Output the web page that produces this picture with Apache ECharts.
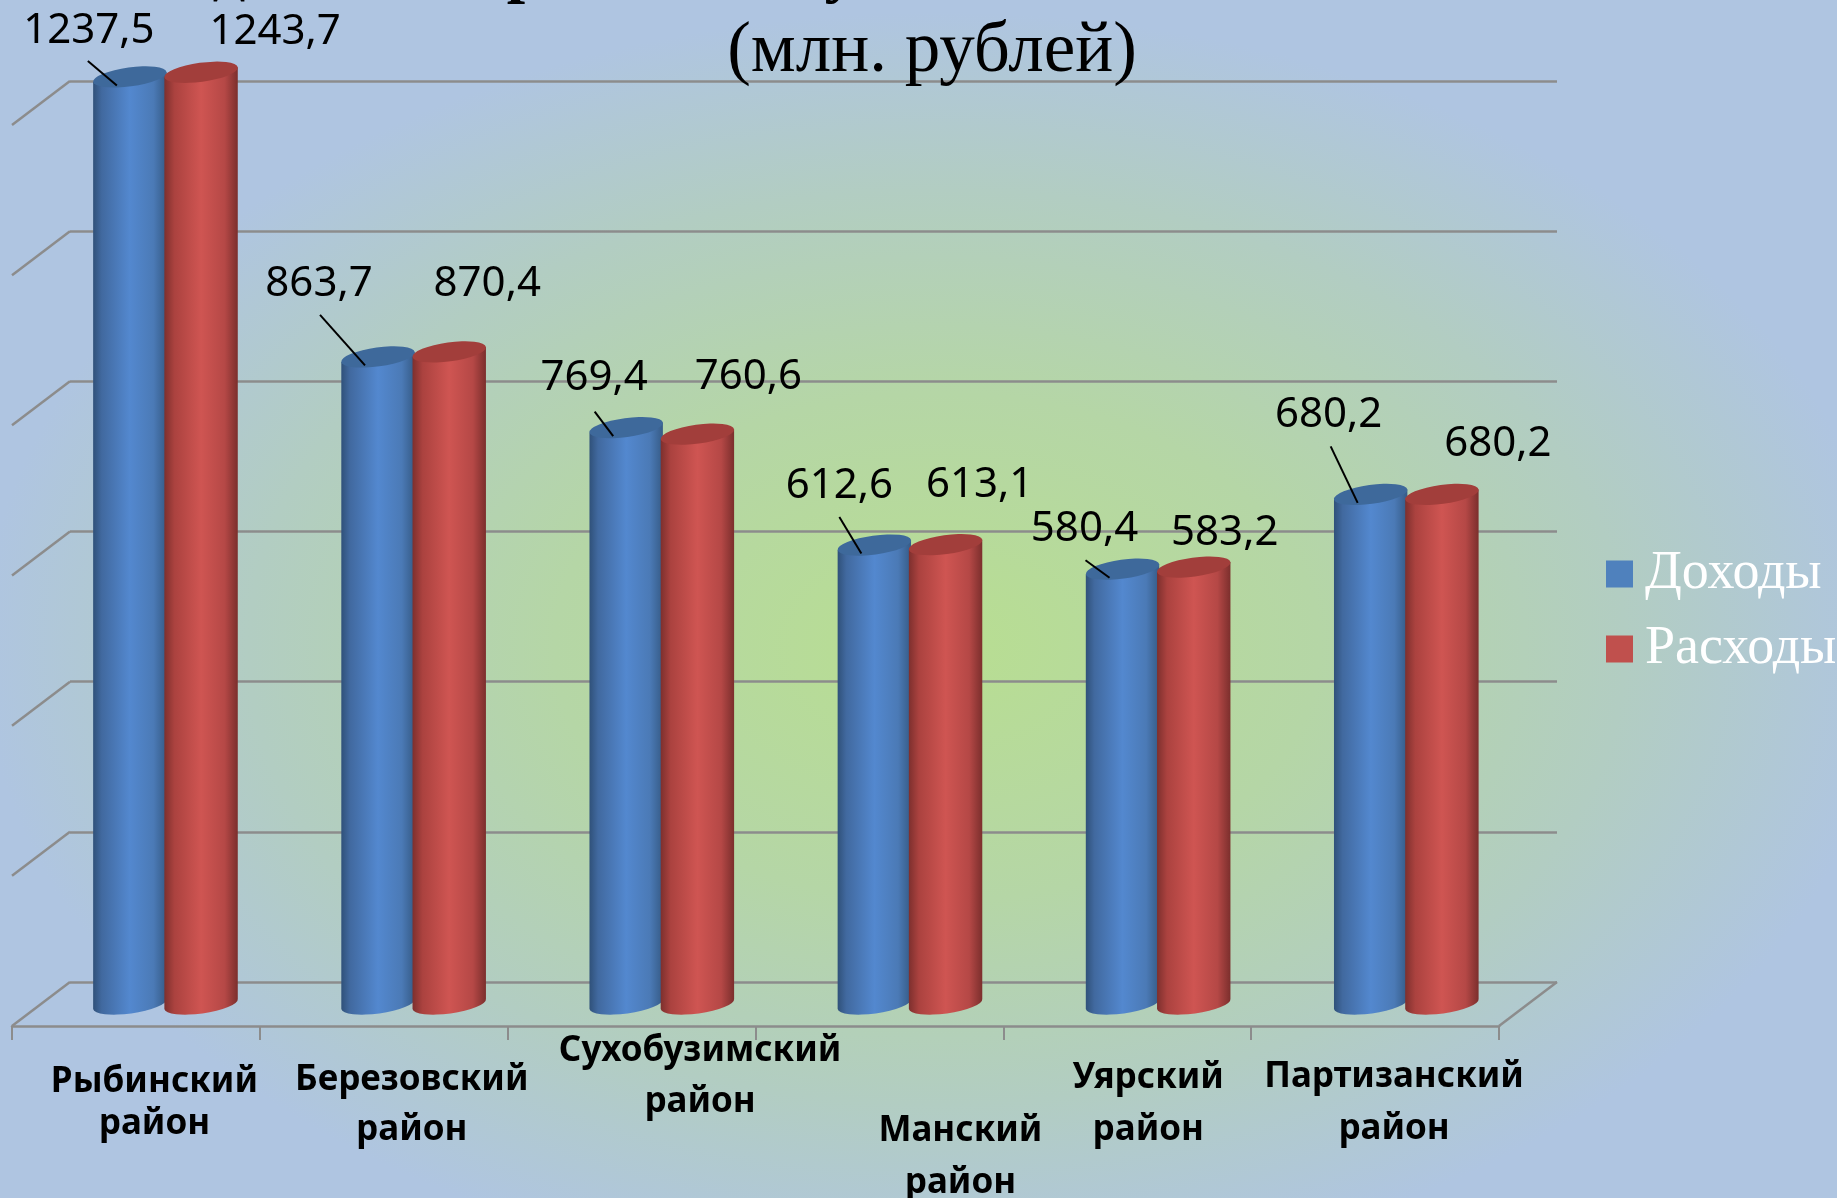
<!DOCTYPE html>
<html>
<head>
<meta charset="utf-8">
<title>Доходы и расходы</title>
<script src="https://cdn.jsdelivr.net/npm/echarts@6/dist/echarts.min.js"></script>
<style>
    html, body { margin: 0; height: 100%; overflow: hidden; }
    body { background: radial-gradient(ellipse 52% 53% at 51% 54%, #b8de91 0%, #b5d6a6 40%, #b2cdc2 72%, #afc5e1 100%); }
    #chart { width: 1837px; height: 1198px; }
</style>
</head>
<body>
<div id="chart"></div>
<script>
    var categories = ['Рыбинский район', 'Березовский район', 'Сухобузимский район', 'Манский район', 'Уярский район', 'Партизанский район'];
    var incomeValues = [1237.5, 863.7, 769.4, 612.6, 580.4, 680.2];
    var expenseValues = [1243.7, 870.4, 760.6, 613.1, 583.2, 680.2];
    var wallTicks = [0, 200, 400, 600, 800, 1000, 1200];

    // the labels were dragged by hand in the original, so they get their own offsets
    var incomeLabelShift = [[-41, -46], [-59, -73], [-32, -50], [-35, -59], [-38, -40], [-42, -79]];
    var expenseLabelShift = [[74, -40], [38, -68], [51, -57], [34, -60], [31, -34], [56, -50]];
    var incomeLeaderStart = [[-42, -16], [-58, -42], [-31.5, -16], [-35, -28], [-37, -9], [-40, -48]];
    var categoryLabelPad = [[45, 37, 42], [39, 56, 50], [10, 137, 51], [89, 162, 52], [36, 42, 52], [35, 38, 52]];
    var clippedTitleLetters = [['д', 229], ['р', 525], ['у', 841]];

    var DEPTH_X = 58, DEPTH_Y = 44;
    var GREY = '#8c8c8c';
    var blueStops = [
        { offset: 0, color: '#2f5078' }, { offset: 0.12, color: '#41699f' }, { offset: 0.5, color: '#5388cf' },
        { offset: 0.82, color: '#4b7ab6' }, { offset: 1, color: '#355a85' }
    ];
    var redStops = [
        { offset: 0, color: '#7c2f2d' }, { offset: 0.14, color: '#ab423f' }, { offset: 0.5, color: '#cf5552' },
        { offset: 0.82, color: '#b54846' }, { offset: 1, color: '#7a2e2c' }
    ];

    function formatValue(v) {
        return v.toFixed(1).replace('.', ',');
    }

    // стена и пол: диагонали от каждой линии сетки
    function renderWall(params, api) {
        var box = params.coordSys;
        var y = api.coord([0, api.value(0)])[1];
        var lineStyle = { stroke: GREY, lineWidth: 2.5 };
        var children = [{
            type: 'line',
            shape: { x1: box.x, y1: y, x2: box.x - DEPTH_X, y2: y + DEPTH_Y },
            style: lineStyle
        }];
        if (api.value(0) === 0) {
            children.push({
                type: 'line',
                shape: { x1: box.x + box.width, y1: y, x2: box.x + box.width - DEPTH_X, y2: y + DEPTH_Y },
                style: lineStyle
            });
        }
        return { type: 'group', children: children };
    }

    function makeCylinder(stops, capColor, barOffset, labelShift, leaderStart) {
        return function (params, api) {
            var band = api.size([1, 0])[0];
            var top = api.coord([api.value(0), api.value(1)]);
            var base = api.coord([api.value(0), 0]);
            var cx = top[0] + band * barOffset;
            var rx = 37, ry = 9.5, ex = 36.7, tilt = 5;
            var arc = rx + ' ' + ry + ' -7.7 ';
            var body = 'M' + (cx - ex) + ' ' + (top[1] + tilt) +
                'L' + (cx - ex) + ' ' + (base[1] + tilt) +
                'A' + arc + '0 0 ' + (cx + ex) + ' ' + (base[1] - tilt) +
                'L' + (cx + ex) + ' ' + (top[1] - tilt) + 'Z';
            var cap = 'M' + (cx - ex) + ' ' + (top[1] + tilt) +
                'A' + arc + '1 0 ' + (cx + ex) + ' ' + (top[1] - tilt) +
                'A' + arc + '1 0 ' + (cx - ex) + ' ' + (top[1] + tilt) + 'Z';
            var i = params.dataIndex;
            var children = [
                {
                    type: 'path',
                    shape: { pathData: body },
                    style: { fill: { type: 'linear', x: 0, y: 0, x2: 1, y2: 0, colorStops: stops } }
                },
                { type: 'path', shape: { pathData: cap }, style: { fill: capColor } }
            ];
            if (leaderStart) {
                children.push({
                    type: 'line',
                    shape: {
                        x1: cx + leaderStart[i][0], y1: top[1] + leaderStart[i][1],
                        x2: cx - 13, y2: top[1] + 8.5
                    },
                    style: { stroke: '#000', lineWidth: 2 }
                });
            }
            children.push({
                type: 'text',
                style: {
                    text: formatValue(api.value(1)),
                    x: cx + labelShift[i][0],
                    y: top[1] + labelShift[i][1],
                    align: 'center',
                    verticalAlign: 'middle',
                    fontFamily: 'Noto Sans',
                    fontSize: 42,
                    fill: '#000'
                }
            });
            return { type: 'group', children: children };
        };
    }

    var xAxisData = categories.map(function (name, i) {
        var pad = categoryLabelPad[i];
        return {
            value: name,
            textStyle: {
                padding: [pad[0], 0, 0, pad[1]],
                lineHeight: pad[2]
            }
        };
    });

    var option = {
        animation: false,
        title: {
            text: '(млн. рублей)',
            left: 927,
            top: 12,
            textAlign: 'center',
            textStyle: { fontFamily: 'Liberation Serif', fontWeight: 'normal', fontSize: 71, color: '#000' }
        },
        legend: {
            orient: 'vertical',
            left: 1601,
            top: 542,
            itemWidth: 27,
            itemHeight: 27,
            itemGap: 21,
            icon: 'rect',
            selectedMode: false,
            data: ['Доходы', 'Расходы'],
            textStyle: { fontFamily: 'Liberation Serif', fontSize: 54, color: '#fff', padding: [0, 0, 0, 7] }
        },
        grid: [
            { left: 70, top: 81, width: 1487, height: 901, outerBoundsMode: 'none' },   // задняя стена
            { left: 12, top: 125, width: 1487, height: 901, outerBoundsMode: 'none' },  // передний край
            { left: 41, top: 105, width: 1489, height: 899, outerBoundsMode: 'none' }   // плоскость столбиков
        ],
        xAxis: [
            { gridIndex: 0, type: 'category', data: categories, axisLine: { show: false }, axisTick: { show: false }, axisLabel: { show: false } },
            {
                gridIndex: 1,
                type: 'category',
                data: xAxisData,
                axisLine: { lineStyle: { color: GREY, width: 2.5 } },
                axisTick: { show: true, interval: 0, length: 14, lineStyle: { color: GREY, width: 2 } },
                axisLabel: {
                    interval: 0,
                    margin: -10,
                    verticalAlign: 'top',
                    fontFamily: 'Noto Sans',
                    fontWeight: 'bold',
                    fontSize: 35,
                    color: '#000',
                    formatter: function (v) { return v.replace(' ', '\n'); }
                }
            },
            { gridIndex: 2, type: 'category', data: categories, axisLine: { show: false }, axisTick: { show: false }, axisLabel: { show: false } }
        ],
        yAxis: [
            {
                gridIndex: 0, type: 'value', min: 0, max: 1200, interval: 200,
                axisLine: { show: false }, axisTick: { show: false }, axisLabel: { show: false },
                splitLine: { lineStyle: { color: GREY, width: 2.5 } }
            },
            { gridIndex: 1, type: 'value', min: 0, max: 1200, interval: 200, axisLine: { show: false }, axisTick: { show: false }, axisLabel: { show: false }, splitLine: { show: false } },
            { gridIndex: 2, type: 'value', min: 0, max: 1200, interval: 200, axisLine: { show: false }, axisTick: { show: false }, axisLabel: { show: false }, splitLine: { show: false } }
        ],
        series: [
            {
                type: 'custom',
                name: 'wall',
                xAxisIndex: 0,
                yAxisIndex: 0,
                coordinateSystem: 'cartesian2d',
                encode: { y: 0 },
                data: wallTicks.map(function (v) { return [v]; }),
                silent: true,
                clip: false,
                renderItem: renderWall,
                z: 1
            },
            {
                type: 'custom',
                name: 'Доходы',
                xAxisIndex: 2,
                yAxisIndex: 2,
                coordinateSystem: 'cartesian2d',
                encode: { x: 0, y: 1 },
                data: incomeValues.map(function (v, i) { return [i, v]; }),
                itemStyle: { color: '#4f81bd' },
                clip: false,
                renderItem: makeCylinder(blueStops, '#3e699b', -0.142, incomeLabelShift, incomeLeaderStart),
                z: 3
            },
            {
                type: 'custom',
                name: 'Расходы',
                xAxisIndex: 2,
                yAxisIndex: 2,
                coordinateSystem: 'cartesian2d',
                encode: { x: 0, y: 1 },
                data: expenseValues.map(function (v, i) { return [i, v]; }),
                itemStyle: { color: '#c0504d' },
                clip: false,
                renderItem: makeCylinder(redStops, '#a23e3b', 0.145, expenseLabelShift, null),
                z: 4
            }
        ],
        // первая строка заголовка обрезана краем кадра, видны только хвосты букв
        graphic: clippedTitleLetters.map(function (item) {
            return {
                type: 'text',
                x: item[1],
                y: 6,
                style: {
                    text: item[0],
                    align: 'center',
                    verticalAlign: 'bottom',
                    fontFamily: 'Liberation Serif',
                    fontWeight: 'bold',
                    fontSize: 66,
                    fill: '#000'
                }
            };
        })
    };

    var chart = echarts.init(document.getElementById('chart'));
    chart.setOption(option);
</script>
</body>
</html>
